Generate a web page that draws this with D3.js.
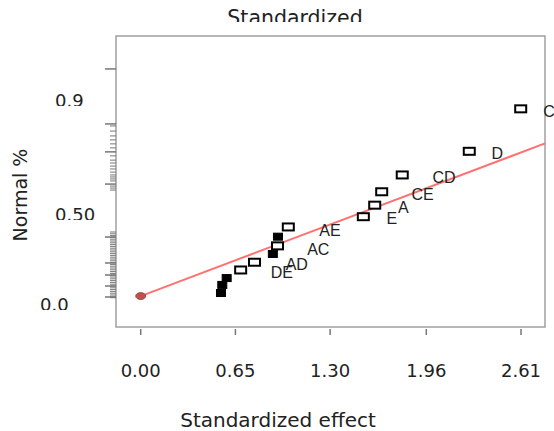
<!DOCTYPE html>
<html><head><meta charset="utf-8">
<script src="https://cdn.jsdelivr.net/npm/d3@7"></script>
<style>body{margin:0;background:#fff}svg{display:block}</style>
</head><body>
<script>
// ---- data ----
const xTicks = [0.00, 0.65, 1.30, 1.96, 2.61];
const yLabelValues = [0.0, 0.50, 0.9];
const yLabelTexts = ["0.0", "0.50", "0.9"];
const yMajorTicks = [1.009, 0.816, 0.718, 0.605, 0.372, 0.228, 0.161, 0.100, 0.039];
const yMinorTicks = [0.809,0.791,0.774,0.760,0.746,0.732,0.704,0.689,0.679,0.668,0.658,0.647,0.637,0.630,0.623,0.616,0.598,0.591,0.584,
  0.40,0.39,0.38,0.37,0.36,0.35,0.34,0.33,0.32,0.31,0.30,0.29,0.28,0.27,0.26,0.25,0.24,0.23,0.22,0.21,0.20,0.19,0.18,0.17,0.16,0.15,0.14,0.13,0.12,0.11,0.10,0.09,0.08,0.07,0.06,0.05,0.04,0.035];
const effX = [0.551,0.560,0.590,0.686,0.781,0.907,0.939,0.942,1.013,1.528,1.606,1.654,1.795,2.255,2.608];
const effY = [0.061,0.106,0.144,0.189,0.232,0.278,0.323,0.374,0.428,0.485,0.531,0.578,0.637,0.720,0.869];
const effSig = [false,false,false,false,false,false,false,false,false,false,false,false,false,false,false];
const effFilled = [true,true,true,false,false,true,false,true,false,false,false,false,false,false,false];
const labelNames = ["AE","AC","AD","DE","E","A","CE","CD","D","C"];
const labelX = [1.299,1.219,1.071,0.968,1.723,1.802,1.935,2.082,2.447,2.802];
const labelY = [0.411,0.304,0.217,0.174,0.476,0.524,0.569,0.629,0.711,0.859];
const refPoint = [0, 0.044];
const fitLine = [[0, 0.044],[2.775, 0.748]];

// ---- layout ----
const W = 554, H = 431;
const frame = {l:116, t:36, r:545, b:327};
const svg = d3.select("body").append("svg").attr("width", W).attr("height", H);
const font = "'DejaVu Sans', sans-serif";
const x = d3.scaleLinear().domain([0, 2.61]).range([140.7, 521]);
const y = d3.scaleLinear().domain([0, 0.5, 0.9]).range([304, 214, 100]);
const defs = svg.append("defs");

// title (clipped at top)
defs.append("clipPath").attr("id","clipTitle").append("rect").attr("x",0).attr("y",0).attr("width",W).attr("height",22);
svg.append("text").attr("x", 295).attr("y", 25).attr("text-anchor","middle")
  .attr("clip-path","url(#clipTitle)")
  .style("font-family", font).style("font-size","20.5px").attr("fill","#222").text("Standardized");

// frame
svg.append("rect").attr("x", frame.l).attr("y", frame.t)
  .attr("width", frame.r - frame.l).attr("height", frame.b - frame.t)
  .attr("fill","none").attr("stroke","#a0a0a0").attr("stroke-width",1.5);

// y ticks
svg.append("g").selectAll("line.minor").data(yMinorTicks).join("line")
  .attr("x1", frame.l - 6).attr("x2", frame.l)
  .attr("y1", d => y(d)).attr("y2", d => y(d))
  .attr("stroke","#777").attr("stroke-width",1);
svg.append("g").selectAll("line.major").data(yMajorTicks).join("line")
  .attr("x1", frame.l - 11).attr("x2", frame.l)
  .attr("y1", d => y(d)).attr("y2", d => y(d))
  .attr("stroke","#777").attr("stroke-width",1.5);

// y labels (bottom clipped)
const yLabX = [40, 55, 55];
yLabelValues.forEach((v, i) => {
  const base = y(v) + 7;
  defs.append("clipPath").attr("id","clipY"+i).append("rect")
    .attr("x",0).attr("y", base - 30).attr("width", 110).attr("height", 29);
  svg.append("text").attr("x", yLabX[i]).attr("y", base)
    .attr("clip-path","url(#clipY"+i+")")
    .style("font-family", font).style("font-size","18px").attr("fill","#222")
    .text(yLabelTexts[i]);
});

// x axis ticks + labels
const xg = svg.append("g");
xg.selectAll("line").data(xTicks).join("line")
  .attr("x1", d => x(d)).attr("x2", d => x(d))
  .attr("y1", frame.b + 2).attr("y2", frame.b + 8)
  .attr("stroke","#777").attr("stroke-width",1.5);
xg.selectAll("text").data(xTicks).join("text")
  .attr("x", d => x(d)).attr("y", 377).attr("text-anchor","middle")
  .style("font-family", font).style("font-size","18px").attr("fill","#222")
  .text(d => d3.format(".2f")(d));

// axis titles
svg.append("text").attr("x", 278).attr("y", 427).attr("text-anchor","middle")
  .style("font-family", font).style("font-size","20px").attr("fill","#222").text("Standardized effect");
svg.append("text").attr("transform","translate(27,195) rotate(-90)").attr("text-anchor","middle")
  .style("font-family", font).style("font-size","19px").attr("fill","#222").text("Normal %");

// fit line
svg.append("line")
  .attr("x1", x(fitLine[0][0])).attr("y1", y(fitLine[0][1]))
  .attr("x2", x(fitLine[1][0])).attr("y2", y(fitLine[1][1]))
  .attr("stroke","#ff7070").attr("stroke-width",2);

// reference point
svg.append("ellipse").attr("cx", x(refPoint[0])).attr("cy", y(refPoint[1]))
  .attr("rx",5).attr("ry",3.5).attr("fill","#c0504d").attr("stroke","#8b3a38").attr("stroke-width",0.8);

// effect points
const pts = effX.map((v,i) => ({x:v, y:effY[i], filled:effFilled[i]}));
svg.append("g").selectAll("rect").data(pts).join("rect")
  .attr("x", d => x(d.x) - (d.filled ? 4.5 : 5.5))
  .attr("y", d => y(d.y) - 3.5)
  .attr("width", d => d.filled ? 9 : 11).attr("height", 7)
  .attr("fill", d => d.filled ? "#000" : "#fff")
  .attr("stroke","#000").attr("stroke-width", d => d.filled ? 1 : 2);

// labels
svg.append("g").selectAll("text").data(labelNames).join("text")
  .attr("x", (d,i) => x(labelX[i])).attr("y", (d,i) => y(labelY[i]))
  .attr("text-anchor","middle").attr("dominant-baseline","central")
  .style("font-family","'Liberation Sans', Arial, sans-serif").style("font-size","16px").attr("fill","#222")
  .text(d => d);
</script>
</body></html>
